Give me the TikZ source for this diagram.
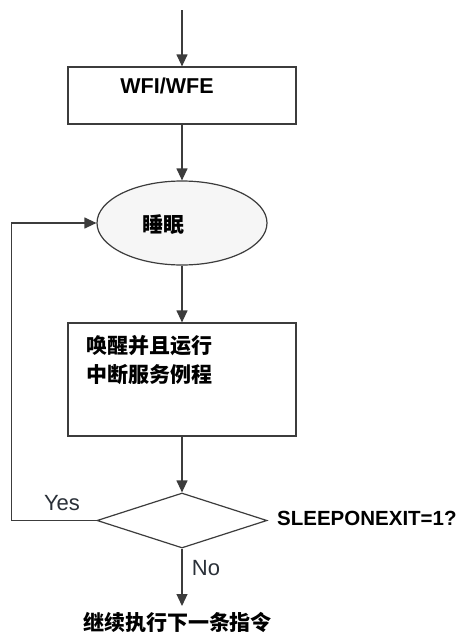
\documentclass[tikz,border=0pt]{standalone}
\usepackage{fontspec}
\setmainfont{Liberation Sans}
\newfontfamily\cjk{Noto Sans CJK SC}
\usetikzlibrary{shapes.geometric,arrows.meta}
\definecolor{lc}{HTML}{3C3C3C}
\definecolor{ef}{HTML}{F6F6F6}
\definecolor{tc}{HTML}{2A3038}
\begin{document}
\begin{tikzpicture}[x=1pt,y=-1pt,
  conn/.style={draw=lc,line width=1.2pt},
  arr/.style={conn,-{Triangle[length=12pt,width=11pt]}},
  boxnode/.style={draw=lc,line width=1.2pt,fill=white,rectangle,inner sep=0pt},
  lbl/.style={font=\fontsize{21}{29}\selectfont\bfseries\cjk,inner sep=0pt},
  yn/.style={font=\fontsize{22}{26}\selectfont,text=tc,inner sep=0pt}]
\useasboundingbox (0,0) rectangle (463,635);
\fill[white] (0,0) rectangle (463,635);
\coordinate (s) at (182,10);
\node[boxnode,minimum width=228pt,minimum height=57pt] (r1) at (182,95.5) {};
\node[font=\fontsize{21.5}{25}\selectfont\bfseries,inner sep=0pt] (t1) at (167,86) {WFI/WFE};
\node[draw=lc,line width=1.2pt,fill=ef,ellipse,inner sep=0pt,minimum width=170pt,minimum height=84pt] (e) at (182,223) {};
\node[lbl] (t2) at (163,225) {睡眠};
\node[boxnode,minimum width=228pt,minimum height=113pt] (r2) at (182,379.5) {};
\node[lbl,anchor=west,align=left] (t3) at (86,360) {唤醒并且运行\\中断服务例程};
\node[draw=lc,line width=1.2pt,fill=white,diamond,aspect=3.09,inner sep=0pt,minimum width=170pt,minimum height=55pt] (d) at (182,520.5) {};
\node[font=\fontsize{20.5}{25}\selectfont\bfseries,inner sep=0pt,anchor=west] (t4) at (277,518) {SLEEPONEXIT=1?};
\node[yn] (yes) at (62,503) {Yes};
\node[yn] (no) at (206,568) {No};
\coordinate (n) at (182,606);
\node[lbl] (t5) at (177.5,622) {继续执行下一条指令};
\draw[arr] (s) -- (r1.north);
\draw[arr] (r1.south) -- (e.north);
\draw[arr] (e.south) -- (r2.north);
\draw[arr] (r2.south) -- (d.north);
\draw[arr] (d.west) -- ++(-85,0) |- (e.west);
\draw[arr] (d.south) -- (n);
\end{tikzpicture}
\end{document}
